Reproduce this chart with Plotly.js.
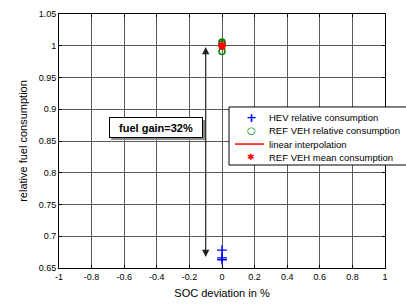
<!DOCTYPE html>
<html><head><meta charset="utf-8">
<script src="https://cdn.plot.ly/plotly-3.0.1.min.js"></script>
<style>html,body{margin:0;padding:0;background:#fff}#chart{width:406px;height:305px}</style>
</head><body><div id="chart"></div>
<script>
// Data
const hevSoc = [0, 0, 0];
const hevRel = [0.678, 0.666, 0.663];
const refSoc = [0, 0, 0];
const refRel = [1.006, 1.003, 0.991];
const interpSoc = [0];
const interpRel = [1.0];
const meanSoc = [0];
const meanRel = [1.0];
const seriesNames = ['HEV relative consumption', 'REF VEH relative consumption', 'linear interpolation', 'REF VEH mean consumption'];
const xTickVals = [-1, -0.8, -0.6, -0.4, -0.2, 0, 0.2, 0.4, 0.6, 0.8, 1];
const xTickText = ['-1', '-0.8', '-0.6', '-0.4', '-0.2', '0', '0.2', '0.4', '0.6', '0.8', '1'];
const yTickVals = [0.65, 0.7, 0.75, 0.8, 0.85, 0.9, 0.95, 1, 1.05];
const yTickText = ['0.65', '0.7', '0.75', '0.8', '0.85', '0.9', '0.95', '1', '1.05'];
const gainLabel = 'fuel gain=32%';
const gainPos = {x: -0.405, y: 0.8705};
const arrowX = -0.1, arrowTop = 0.998, arrowBottom = 0.665;

const font = 'Liberation Sans, Arial, sans-serif';
const colors = ['#0000ff', '#008000', '#ff0000', '#ff0000'];
const traces = [
  {x: hevSoc, y: hevRel, mode: 'markers', name: seriesNames[0], showlegend: false,
   marker: {symbol: 'cross-thin-open', size: 7, line: {color: colors[0], width: 1.3}, color: colors[0]}},
  {x: refSoc, y: refRel, mode: 'markers', name: seriesNames[1], showlegend: false,
   marker: {symbol: 'circle-open', size: 6, line: {color: colors[1], width: 1.5}, color: colors[1]}},
  {x: interpSoc, y: interpRel, mode: 'lines', name: seriesNames[2], showlegend: false,
   line: {color: colors[2], width: 1.5}},
  {x: meanSoc, y: meanRel, mode: 'markers', name: seriesNames[3], showlegend: false,
   marker: {symbol: 'asterisk-open', size: 7, line: {color: colors[3], width: 2.2}, color: colors[3]}}
];
const axisCommon = {
  showline: true, linecolor: '#000', linewidth: 1, mirror: 'allticks',
  ticks: 'inside', ticklen: 3, tickcolor: '#000',
  showgrid: true, gridcolor: '#5a5a5a', gridwidth: 1, zeroline: false,
  tickfont: {family: font, size: 9, color: '#000'}, tickmode: 'array'
};

// Custom legend (paper coordinates)
const legRows = [0.594, 0.540, 0.488, 0.437];
const legMarkX = 0.589, legTextX = 0.638;
const legGlyphs = ['+', '○', '', '✱'];
const legGlyphSize = [13, 10, 9, 9];
const annotations = [
  {x: arrowX, y: arrowTop, ax: arrowX, ay: arrowBottom, xref: 'x', yref: 'y', axref: 'x', ayref: 'y',
   text: '', showarrow: true, arrowhead: 2, arrowside: 'end+start', arrowsize: 1.2, arrowwidth: 1.2,
   arrowcolor: '#222'},
  {x: gainPos.x, y: gainPos.y, xref: 'x', yref: 'y', text: '<b>' + gainLabel + '</b>', showarrow: false,
   font: {family: font, size: 11, color: '#000'}, bgcolor: '#fff', bordercolor: '#000', borderwidth: 1,
   borderpad: 2, width: 88, height: 15}
];
seriesNames.forEach((n, i) => {
  annotations.push({x: legTextX, y: legRows[i], xref: 'paper', yref: 'paper', xanchor: 'left', yanchor: 'middle',
    text: n, showarrow: false, font: {family: font, size: 9.5, color: '#000'}});
  if (legGlyphs[i]) annotations.push({x: legMarkX, y: legRows[i], xref: 'paper', yref: 'paper', xanchor: 'center', yanchor: 'middle',
    text: '<b>' + legGlyphs[i] + '</b>', showarrow: false, font: {family: 'DejaVu Sans, sans-serif', size: legGlyphSize[i], color: colors[i]}});
});
const shapes = [
  // annotation drop shadow
  {type: 'rect', xref: 'paper', yref: 'paper', x0: 0.160, x1: 0.448, y0: 0.504, y1: 0.583,
   fillcolor: '#8a8a8a', line: {width: 0}, layer: 'above'},
  // legend box
  {type: 'rect', xref: 'paper', yref: 'paper', x0: 0.5215, x1: 1.08, y0: 0.4055, y1: 0.634,
   fillcolor: '#fff', line: {color: '#000', width: 1}, layer: 'above'},
  {type: 'line', xref: 'paper', yref: 'paper', x0: 0.540, x1: 0.629, y0: legRows[2], y1: legRows[2],
   line: {color: colors[2], width: 1.5}, layer: 'above'}
];
const layout = {
  width: 406, height: 305,
  margin: {l: 59, r: 21, t: 14, b: 37},
  paper_bgcolor: '#fff', plot_bgcolor: '#fff',
  font: {family: font, color: '#000'},
  showlegend: false,
  xaxis: Object.assign({}, axisCommon, {range: [-1, 1], tickvals: xTickVals, ticktext: xTickText,
    title: {text: 'SOC deviation in %', font: {family: font, size: 11}, standoff: 8}}),
  yaxis: Object.assign({}, axisCommon, {range: [0.65, 1.05], tickvals: yTickVals, ticktext: yTickText,
    title: {text: 'relative fuel consumption', font: {family: font, size: 11}, standoff: 8}}),
  annotations: annotations,
  shapes: shapes
};
Plotly.newPlot('chart', traces, layout, {displayModeBar: false, staticPlot: true});
</script></body></html>
